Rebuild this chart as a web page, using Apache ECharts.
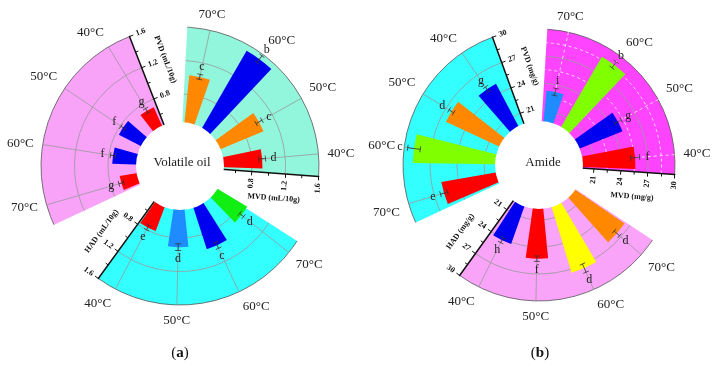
<!DOCTYPE html>
<html>
<head>
<meta charset="utf-8">
<script src="https://cdn.jsdelivr.net/npm/echarts@6.0.0/dist/echarts.min.js"></script>
<style>
html, body { margin: 0; padding: 0; background: #fff; }
#chart { width: 715px; height: 372px; }
</style>
</head>
<body>
<div id="chart"></div>
<script>
const temps = ['40°C', '50°C', '60°C', '70°C'];

// (a) Volatile oil, mL/10g
const oilMvd = [0.925, 1.02, 1.53, 1.03];
const oilMvdErr = [0.04, 0.04, 0.05, 0.03];
const oilMvdSig = ['d', 'c', 'b', 'c'];
const oilPvd = [0.71, 0.76, 0.75, 0.67];
const oilPvdErr = [0.03, 0.03, 0.03, 0.03];
const oilPvdSig = ['g', 'f', 'f', 'g'];
const oilHad = [0.77, 0.91, 0.985, 0.88];
const oilHadErr = [0.03, 0.04, 0.04, 0.03];
const oilHadSig = ['e', 'd', 'c', 'd'];
const oilTicks = [0.8, 1.2, 1.6];

// (b) Amide, mg/g
const amideMvd = [25.6, 24.9, 28.8, 23.2];
const amideMvdErr = [0.5, 0.4, 0.4, 0.4];
const amideMvdSig = ['f', 'g', 'b', 'i'];
const amidePvd = [25.1, 26.3, 28.9, 25.9];
const amidePvdErr = [0.3, 0.3, 0.7, 0.4];
const amidePvdSig = ['g', 'd', 'c', 'e'];
const amideHad = [24.2, 25.3, 27.4, 26.4];
const amideHadErr = [0.3, 0.3, 0.5, 0.4];
const amideHadSig = ['h', 'f', 'd', 'd'];
const amideTicks = [21, 24, 27, 30];

const SERIF = 'Liberation Serif';
const RED = '#ff0000', ORANGE = '#ff8800', BLUE = '#0000f0', SKY = '#1e8cff',
      GREEN = '#11ee11', LIME = '#80ff00', YELLOW = '#ffff00';
const GRID = { color: '#999', width: 0.8 };
const GRID_WHITE = { color: '#fff', width: 0.8, type: [3, 3] };

const polar = [], angleAxis = [], radiusAxis = [], series = [];

// sector background + arc grid, drawn through the polar's own scales
function sectorBg(s) {
  return function (params, api) {
    const o = api.coord([s.min, 0]);
    const far0 = api.coord([s.max, 0]), far1 = api.coord([s.max, 1]);
    // centre = where both edges meet: use the known polar centre
    const cx = s.center[0], cy = s.center[1];
    const a0 = Math.atan2(far0[1] - cy, far0[0] - cx);
    let a1 = Math.atan2(far1[1] - cy, far1[0] - cx);
    while (a1 > a0) a1 -= Math.PI * 2;
    const rad = v => { const p = api.coord([v, 0]); return Math.hypot(p[0] - cx, p[1] - cy); };
    const children = [{
      type: 'sector',
      shape: { cx, cy, r0: Math.hypot(o[0] - cx, o[1] - cy), r: rad(s.max), startAngle: a0, endAngle: a1, clockwise: false },
      style: { fill: s.fill }
    }];
    (s.minorArcs || []).forEach(t => children.push({
      type: 'arc', shape: { cx, cy, r: rad(t), startAngle: a0, endAngle: a1, clockwise: false },
      style: { stroke: '#fff', lineWidth: 0.8, lineDash: [3, 3], fill: null }
    }));
    s.arcs.forEach((t, k) => children.push({
      type: 'arc', shape: { cx, cy, r: rad(t), startAngle: a0, endAngle: a1, clockwise: false },
      style: { stroke: k === s.arcs.length - 1 ? '#555' : '#999', lineWidth: 0.8, fill: null }
    }));
    return { type: 'group', children };
  };
}

function errorBars(sig) {
  return function (params, api) {
    const i = api.value(0), v = api.value(1), e = api.value(2);
    const lo = api.coord([v - e, i]);
    const hi = api.coord([v + e, i]);
    let dx = hi[0] - lo[0], dy = hi[1] - lo[1];
    const len = Math.hypot(dx, dy) || 1;
    dx /= len; dy /= len;
    const w = 3;
    const style = { stroke: '#333', lineWidth: 0.8 };
    const cap = p => ({ type: 'line', shape: { x1: p[0] - dy * w, y1: p[1] + dx * w, x2: p[0] + dy * w, y2: p[1] - dx * w }, style });
    return {
      type: 'group',
      children: [
        { type: 'line', shape: { x1: lo[0], y1: lo[1], x2: hi[0], y2: hi[1] }, style },
        cap(lo), cap(hi),
        { type: 'text', x: hi[0] + dx * 8, y: hi[1] + dy * 8,
          style: { text: sig[params.dataIndex], fontSize: 12, fontFamily: SERIF, fill: '#222', align: 'center', verticalAlign: 'middle' } }
      ]
    };
  };
}

function addSector(s) {
  const bg = polar.length, fg = bg + 1;
  polar.push({ center: s.center, radius: s.radius });
  polar.push({ center: s.center, radius: s.radius });

  angleAxis.push({
    polarIndex: bg, type: 'value', min: 0, max: 1, interval: 1, z: 0,
    startAngle: s.bgAngles[0], endAngle: s.bgAngles[1], clockwise: false,
    axisLine: { show: false }, axisTick: { show: false }, axisLabel: { show: false },
    splitLine: { show: false }, splitArea: { show: false }
  });
  angleAxis.push({
    polarIndex: fg, type: 'category', data: temps, z: 1,
    startAngle: s.barAngles[0], endAngle: s.barAngles[1], clockwise: false,
    axisLine: { show: false }, axisTick: { show: false, alignWithLabel: true },
    axisLabel: { margin: 9, fontSize: 13, fontFamily: SERIF, color: '#222' },
    splitLine: { show: true, lineStyle: s.radial || GRID }
  });

  radiusAxis.push({
    polarIndex: bg, type: 'value', min: s.min, max: s.max, interval: s.interval, z: 1,
    axisLine: { lineStyle: { color: '#111', width: 1.5 } },
    axisTick: { length: -4, lineStyle: { color: '#111' } },
    minorTick: { show: true, splitNumber: 2, length: -3, lineStyle: { color: '#111' } },
    axisLabel: {
      formatter: s.fmt, rotate: s.labelRot, align: s.labelAlign, verticalAlign: 'middle',
      margin: -7, fontSize: 8, fontWeight: 'bold', fontFamily: SERIF, color: '#111'
    },
    splitLine: { show: false }, minorSplitLine: { show: false },
    name: s.name, nameLocation: 'middle', nameGap: 21, nameRotate: s.nameRot,
    nameTextStyle: { fontSize: 8, fontWeight: 'bold', fontFamily: SERIF, color: '#111', padding: s.namePad }
  });
  radiusAxis.push({ polarIndex: fg, type: 'value', min: s.min, max: s.max, show: false });

  series.push({
    type: 'custom', coordinateSystem: 'polar', polarIndex: bg, z: 0, silent: true,
    encode: { radius: 0, angle: 1 }, data: [[s.min, 0]],
    renderItem: sectorBg(s)
  });
  series.push({
    type: 'bar', coordinateSystem: 'polar', polarIndex: fg, barWidth: '55%', z: 2,
    data: s.values.map((v, i) => ({ value: v, itemStyle: { color: s.colors[i] } }))
  });
  series.push({
    type: 'custom', coordinateSystem: 'polar', polarIndex: fg, z: 3,
    encode: { angle: 0, radius: 1 },
    data: s.values.map((v, i) => [i, v, s.errors[i]]),
    renderItem: errorBars(s.sig)
  });
}

const cA = [180, 166], rA = [38.5, 139];
const cB = [539, 165], rB = [28, 136];
const fmtA = v => { const t = oilTicks.find(t => Math.abs(t - v) < 1e-6); return t === undefined ? '' : t.toFixed(1); };
const fmtB = v => { const t = amideTicks.find(t => Math.abs(t - v) < 1e-6); return t === undefined ? '' : String(t); };

const oilCommon = { center: cA, radius: rA, min: 0.4, max: 1.6, interval: 0.4, fmt: fmtA, arcs: oilTicks };
const amideCommon = { center: cB, radius: rB, min: 18, max: 30, interval: 3, fmt: fmtB, arcs: amideTicks };

addSector(Object.assign({}, oilCommon, {
  bgAngles: [-4.3, 87], barAngles: [-7.1, 89.6], fill: '#92f6dc',
  labelRot: 85.7, labelAlign: 'right', name: 'MVD (mL/10g)', nameRot: -4.3, namePad: [0, 0, 0, 14],
  values: oilMvd, errors: oilMvdErr, sig: oilMvdSig, colors: [RED, ORANGE, BLUE, ORANGE]
}));
addSector(Object.assign({}, oilCommon, {
  bgAngles: [111.3, 205], barAngles: [108.4, 208.8], fill: '#f8a2f8',
  labelRot: 21.3, labelAlign: 'left', name: 'PVD (mL/10g)', nameRot: -68.7, namePad: [0, 32, 0, 0],
  values: oilPvd, errors: oilPvdErr, sig: oilPvdSig, colors: [RED, BLUE, BLUE, RED]
}));
addSector(Object.assign({}, oilCommon, {
  bgAngles: [234, 327.4], barAngles: [229.1, 334.7], fill: '#33ffff',
  labelRot: -36, labelAlign: 'right', name: 'HAD (mL/10g)', nameRot: 54, namePad: [0, 20, 0, 0],
  values: oilHad, errors: oilHadErr, sig: oilHadSig, colors: [RED, SKY, BLUE, GREEN]
}));

addSector(Object.assign({}, amideCommon, {
  bgAngles: [-4, 86.5], barAngles: [-7.8, 89.7], fill: '#ff44ff',
  radial: GRID_WHITE, minorArcs: [22.5, 25.5, 28.5],
  labelRot: 86, labelAlign: 'right', name: 'MVD (mg/g)', nameRot: -4, namePad: [0, 0, 0, 26],
  values: amideMvd, errors: amideMvdErr, sig: amideMvdSig, colors: [RED, BLUE, LIME, SKY]
}));
addSector(Object.assign({}, amideCommon, {
  bgAngles: [110, 205], barAngles: [112.5, 208.5], fill: '#33ffff',
  labelRot: 20, labelAlign: 'left', name: 'PVD (mg/g)', nameRot: -70, namePad: [0, 28, 0, 0],
  values: amidePvd, errors: amidePvdErr, sig: amidePvdSig, colors: [BLUE, ORANGE, LIME, RED]
}));
addSector(Object.assign({}, amideCommon, {
  bgAngles: [234.3, 326.5], barAngles: [231.2, 331.2], fill: '#f9a3f9',
  labelRot: -35.7, labelAlign: 'right', name: 'HAD (mg/g)', nameRot: 54.3, namePad: [0, 36, 0, 0],
  values: amideHad, errors: amideHadErr, sig: amideHadSig, colors: [BLUE, RED, YELLOW, ORANGE]
}));

const chart = echarts.init(document.getElementById('chart'));
chart.setOption({
  animation: false,
  backgroundColor: '#fff',
  polar, angleAxis, radiusAxis, series,
  graphic: [
    { type: 'circle', z: 100, shape: { cx: cA[0], cy: cA[1], r: 44 }, style: { fill: '#fff' } },
    { type: 'circle', z: 100, shape: { cx: cB[0], cy: cB[1], r: 44 }, style: { fill: '#fff' } },
    { type: 'text', z: 101, x: 182, y: 163, style: { text: 'Volatile oil', fontSize: 13, fontFamily: SERIF, fill: '#222', align: 'center', verticalAlign: 'middle' } },
    { type: 'text', z: 101, x: 543, y: 163, style: { text: 'Amide', fontSize: 13, fontFamily: SERIF, fill: '#222', align: 'center', verticalAlign: 'middle' } },
    { type: 'text', z: 101, x: 180, y: 353, style: { text: '({b|a})', fontSize: 15, fontFamily: SERIF, fill: '#111', align: 'center', verticalAlign: 'middle', rich: { b: { fontWeight: 'bold', fontSize: 15, fontFamily: SERIF } } } },
    { type: 'text', z: 101, x: 540, y: 353, style: { text: '({b|b})', fontSize: 15, fontFamily: SERIF, fill: '#111', align: 'center', verticalAlign: 'middle', rich: { b: { fontWeight: 'bold', fontSize: 15, fontFamily: SERIF } } } }
  ]
});
</script>
</body>
</html>
